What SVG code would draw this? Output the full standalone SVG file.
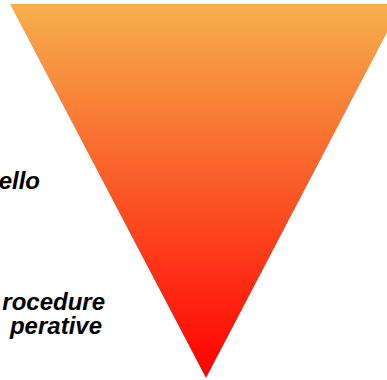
<svg xmlns="http://www.w3.org/2000/svg" width="387" height="380" viewBox="0 0 387 380">
  <defs>
    <linearGradient id="grad" x1="0" y1="4" x2="0" y2="378" gradientUnits="userSpaceOnUse">
      <stop offset="0" stop-color="#F6B04C"/>
      <stop offset="1" stop-color="#FF0000"/>
    </linearGradient>
  </defs>
  <style>
    .lbl { font-family: "Liberation Sans", Arial, sans-serif; font-weight: bold; font-style: italic; font-size: 24px; fill: #000000; }
  </style>
  <rect width="387" height="380" fill="#FFFFFF"/>
  <g id="triangle">
    <polygon points="10,4 402,4 206,378" fill="url(#grad)"/>
  </g>
  <g id="label-top">
    <text class="lbl" x="40" y="189" text-anchor="end">ello</text>
  </g>
  <g id="label-bottom">
    <text class="lbl" x="105" y="310" text-anchor="end">rocedure</text>
    <text class="lbl" x="102" y="334" text-anchor="end">perative</text>
  </g>
</svg>
